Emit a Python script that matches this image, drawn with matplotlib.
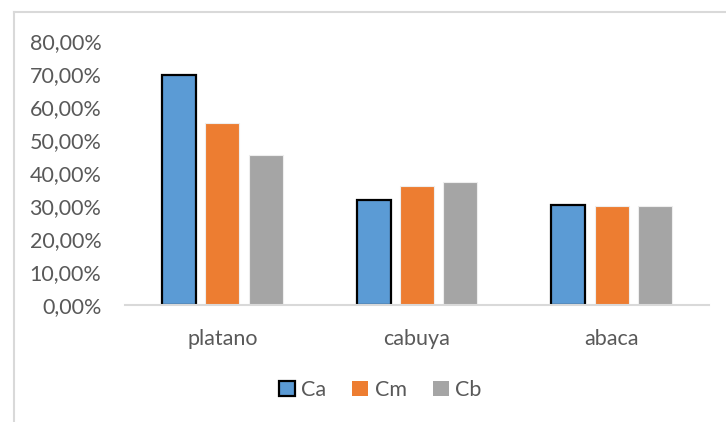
import matplotlib.pyplot as plt
import numpy as np
from matplotlib.lines import Line2D
from matplotlib.patches import Patch
from matplotlib.ticker import FuncFormatter

# Datos
categorias = ["platano", "cabuya", "abaca"]
series = ["Ca", "Cm", "Cb"]
ca = [0.699, 0.319, 0.303]
cm = [0.552, 0.361, 0.301]
cb = [0.455, 0.374, 0.301]
valores = [ca, cm, cb]

colores = ["#5B9BD5", "#ED7D31", "#A5A5A5"]
bordes = ["black", "#EEEEEE", "#EEEEEE"]
gris_texto = "#595959"

plt.rcParams['font.family'] = ['Lato', 'DejaVu Sans']

fig = plt.figure(figsize=(7.26, 4.22), dpi=100)
ax = fig.add_axes([125 / 726, 1 - 305 / 422, 584 / 726, (305 - 41.5) / 422])

x = np.arange(len(categorias))
ancho = 0.175
paso = 0.2225
for i, (serie, vals) in enumerate(zip(series, valores)):
    lw = 1.6 if i == 0 else 0.8
    ax.bar(x + (i - 1) * paso, vals, width=ancho, color=colores[i],
           edgecolor=bordes[i], linewidth=lw, label=serie, zorder=2)

ax.set_xlim(-0.5, 2.5)
ax.set_ylim(0, 0.8)
ax.set_yticks(np.arange(0, 0.81, 0.1))
ax.yaxis.set_major_formatter(FuncFormatter(lambda v, p: f"{v * 100:.2f}%".replace(".", ",")))
ax.set_xticks(x)
ax.set_xticklabels(categorias)

for s in ["top", "right", "left"]:
    ax.spines[s].set_visible(False)
ax.spines["bottom"].set_color("#D9D9D9")
ax.spines["bottom"].set_linewidth(1.5)
ax.tick_params(axis="y", length=0, pad=17, labelsize=15.5, labelcolor=gris_texto)
ax.tick_params(axis="x", length=0, pad=17, labelsize=15.5, labelcolor=gris_texto)

# Leyenda
handles = [Patch(facecolor=colores[i], edgecolor=("black" if i == 0 else colores[i]),
                 linewidth=(1.6 if i == 0 else 0)) for i in range(3)]
fig.legend(handles, series, loc="center", bbox_to_anchor=(380 / 726, 1 - 390 / 422),
           ncol=3, frameon=False, fontsize=15.5, labelcolor=gris_texto,
           handlelength=0.75, handleheight=0.75, handletextpad=0.3, columnspacing=1.2)

# Marco del área del gráfico (recortado)
fig.add_artist(Line2D([13.5 / 726, 13.5 / 726], [0, 1 - 11.5 / 422], color="#D9D9D9", lw=1.5))
fig.add_artist(Line2D([13.5 / 726, 1], [1 - 11.5 / 422, 1 - 11.5 / 422], color="#D9D9D9", lw=1.5))

fig.savefig("out.png", dpi=100)
